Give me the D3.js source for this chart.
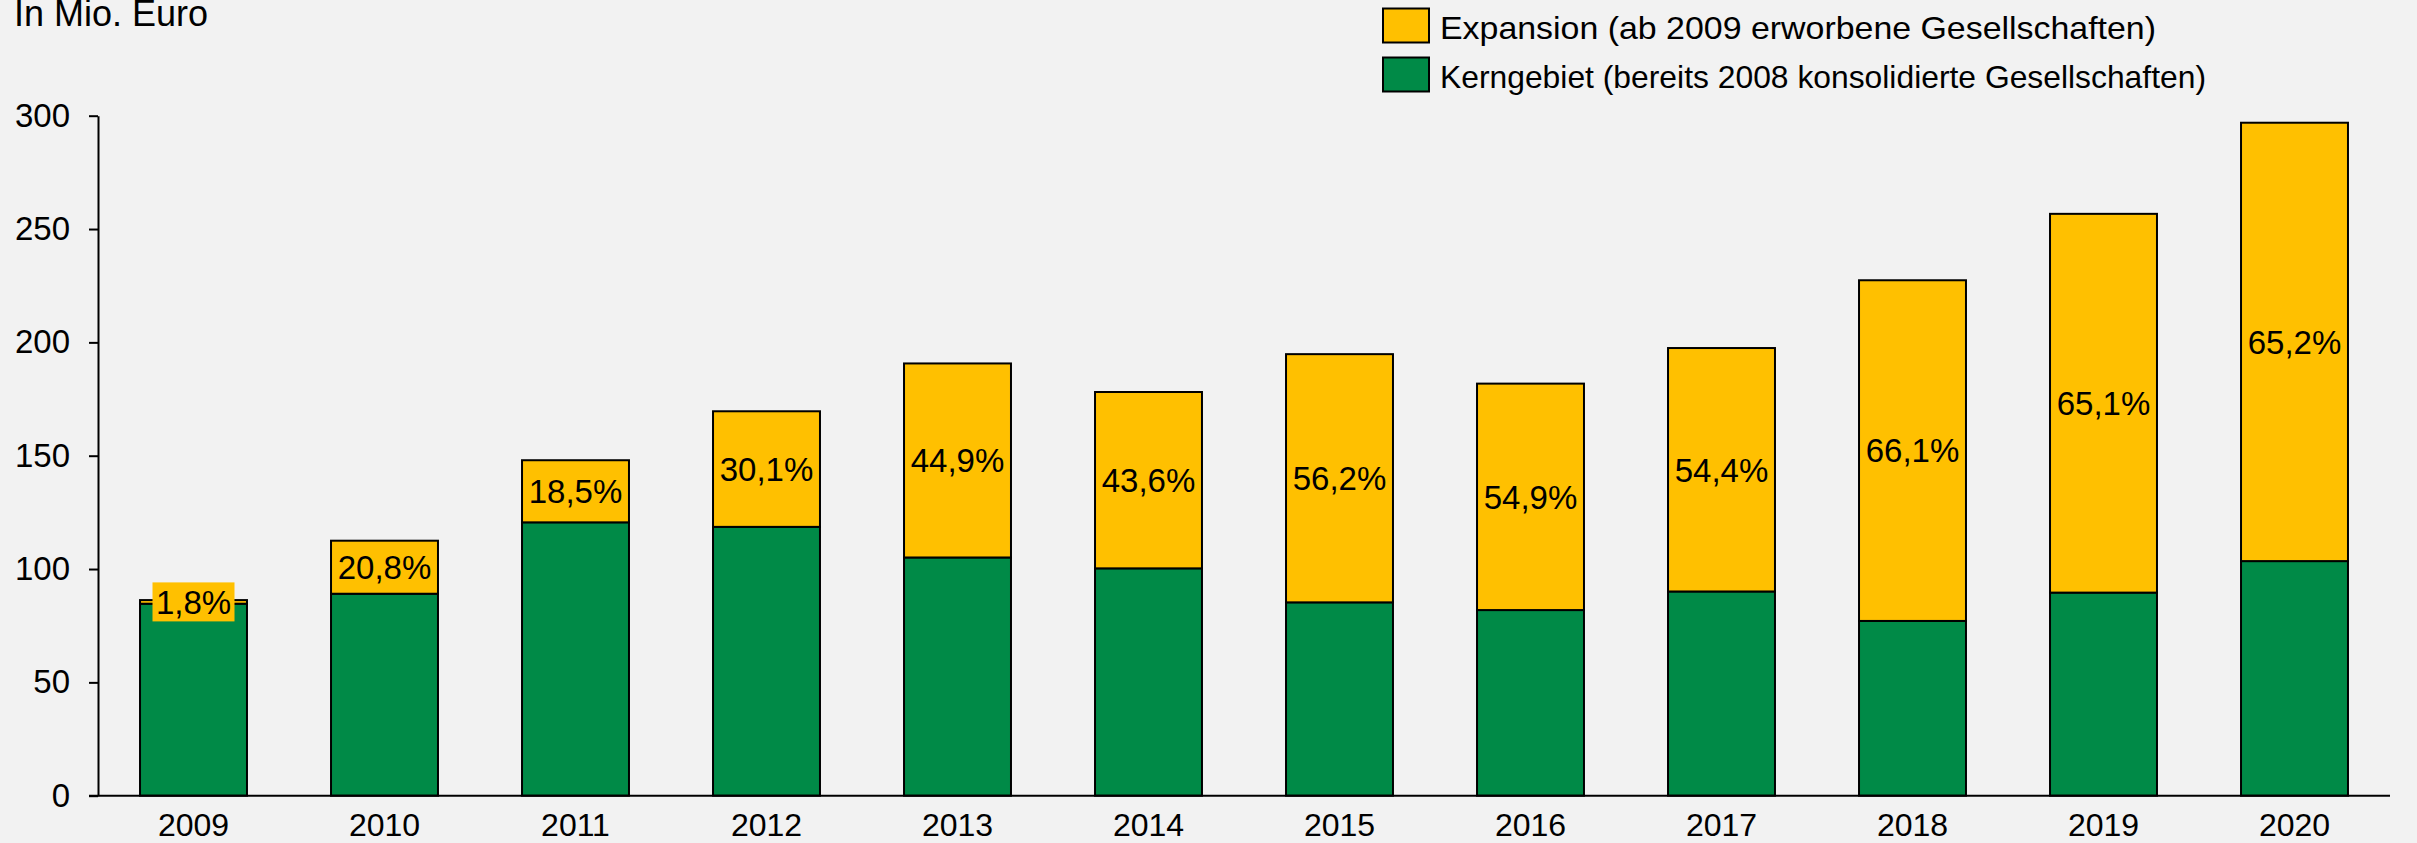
<!DOCTYPE html>
<meta charset="utf-8">
<style>
body { margin: 0; background: #f2f2f2; }
text { font-family: "Liberation Sans", Arial, sans-serif; fill: #000; }
</style>
<body>
<script src="https://d3js.org/d3.v7.min.js"></script>
<script>

// data (Mio. Euro)
var years = ["2009","2010","2011","2012","2013","2014","2015","2016","2017","2018","2019","2020"];
var kern = [84.7, 89.1, 120.6, 118.6, 105.1, 100.3, 85.3, 81.9, 90.1, 77.1, 89.6, 103.5];
var expansion = [1.6, 23.4, 27.4, 51.0, 85.6, 77.8, 109.5, 99.9, 107.4, 150.3, 167.1, 193.4];
var shareLabels = ["1,8%","20,8%","18,5%","30,1%","44,9%","43,6%","56,2%","54,9%","54,4%","66,1%","65,1%","65,2%"];
var yTicks = [0, 50, 100, 150, 200, 250, 300];
var seriesNames = ["Expansion (ab 2009 erworbene Gesellschaften)", "Kerngebiet (bereits 2008 konsolidierte Gesellschaften)"];

var colors = { expansion: "#ffc000", kern: "#008a47" };

var W = 2417, H = 843;
var margin = {left: 98, right: 27, top: 115.7, bottom: 47.3};

var svg = d3.select("body").append("svg")
    .attr("width", W)
    .attr("height", H)
    .style("display", "block");

svg.append("rect").attr("width", W).attr("height", H).attr("fill", "#f2f2f2");

var x = d3.scaleBand()
    .domain(years)
    .range([margin.left, W - margin.right])
    .paddingInner(0.44)
    .paddingOuter(0.22);

var y = d3.scaleLinear()
    .domain([0, 300])
    .range([H - margin.bottom, margin.top]);

// build stacked rows
var rows = years.map(function(yr, i) {
  return { year: yr, kern: kern[i], expansion: expansion[i], label: shareLabels[i] };
});
var stack = d3.stack().keys(["kern", "expansion"])(rows);

// bars
var g = svg.append("g");
stack.forEach(function(layer) {
  g.selectAll(null)
    .data(layer)
    .enter().append("rect")
      .attr("x", function(d) { return x(d.data.year); })
      .attr("y", function(d) { return y(d[1]); })
      .attr("width", x.bandwidth())
      .attr("height", function(d) { return y(d[0]) - y(d[1]); })
      .attr("fill", colors[layer.key])
      .attr("stroke", "#000")
      .attr("stroke-width", 2);
});

// percent labels, centred on expansion segment, yellow box where the segment is thin
var expLayer = stack[1];
var lbl = svg.append("g").selectAll("g")
    .data(expLayer)
    .enter().append("g")
      .attr("transform", function(d) {
        return "translate(" + (x(d.data.year) + x.bandwidth() / 2) + "," + ((y(d[0]) + y(d[1])) / 2) + ")";
      });
lbl.append("rect")
    .attr("x", -41).attr("y", -19.5)
    .attr("width", 82).attr("height", 39)
    .attr("fill", function(d) { return d.data.expansion < 10 ? colors.expansion : "none"; });
lbl.append("text")
    .attr("text-anchor", "middle")
    .attr("dy", "0.36em")
    .style("font-size", "33px")
    .text(function(d) { return d.data.label; });

// y axis
var yAxis = svg.append("g")
    .attr("transform", "translate(" + margin.left + ",0)")
    .call(d3.axisLeft(y).tickValues(yTicks).tickSize(9).tickPadding(19).tickSizeOuter(0));
yAxis.select(".domain").attr("stroke", "#000").attr("stroke-width", 2);
yAxis.selectAll(".tick line").attr("stroke", "#000").attr("stroke-width", 2);
yAxis.selectAll(".tick text").style("font-size", "33px").attr("font-family", null).attr("fill", "#000");

// x axis
var xAxis = svg.append("g")
    .attr("transform", "translate(0," + y(0) + ")")
    .call(d3.axisBottom(x).tickSize(0).tickPadding(18).tickSizeOuter(0));
xAxis.select(".domain").attr("stroke", "#000").attr("stroke-width", 2)
    .attr("d", "M" + (margin.left - 9) + ",0H" + (W - margin.right));
xAxis.selectAll(".tick text").style("font-size", "32px").attr("font-family", null).attr("fill", "#000");

// unit label
svg.append("text")
    .attr("x", 14).attr("y", 26)
    .style("font-size", "36px")
    .text("In Mio. Euro");

// legend
var legendWidths = [716, 766];
var legend = svg.append("g").selectAll("g")
    .data(seriesNames)
    .enter().append("g")
      .attr("transform", function(d, i) { return "translate(1383," + (8.5 + i * 49) + ")"; });
legend.append("rect")
    .attr("width", 46).attr("height", 34)
    .attr("fill", function(d, i) { return i === 0 ? colors.expansion : colors.kern; })
    .attr("stroke", "#000").attr("stroke-width", 2);
legend.append("text")
    .attr("x", 57).attr("y", 30)
    .style("font-size", "32px")
    .attr("textLength", function(d, i) { return legendWidths[i]; })
    .attr("lengthAdjust", "spacingAndGlyphs")
    .text(function(d) { return d; });

</script>
</body>
